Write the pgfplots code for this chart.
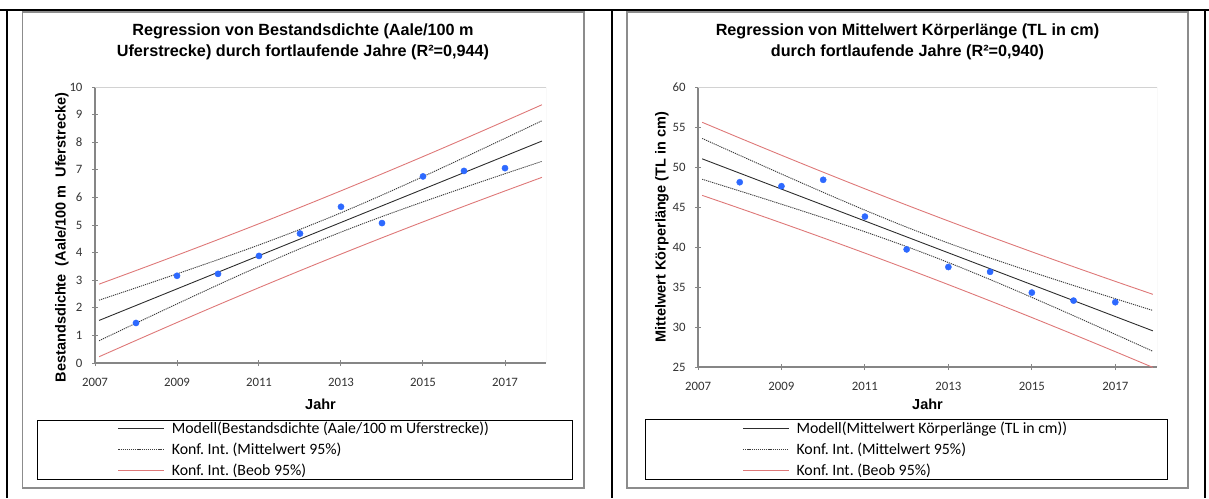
\documentclass[border=0pt]{standalone}
\usepackage{pgfplots}
\pgfplotsset{compat=1.18}
\usepackage{pgfplotstable}
\usepackage{fontspec}
\setmainfont{Carlito}
\newfontfamily\arialfont{Liberation Sans}
\frenchspacing

\definecolor{ptblue}{RGB}{45,105,255}
\definecolor{ciRed}{RGB}{222,120,120}
\definecolor{frameGray}{RGB}{140,140,140}
\definecolor{axisGray}{RGB}{134,134,134}
\definecolor{boxGray}{RGB}{210,210,210}
\definecolor{fitGray}{RGB}{45,45,45}
\definecolor{dotGray}{RGB}{60,60,60}

% Left chart: regression lines and confidence bands
\pgfplotstableread{
x      fit   mlo   mhi   plo   phi
2007.1 1.543 0.808 2.278 0.228 2.858
2008   2.084 1.443 2.725 0.818 3.350
2009   2.686 2.142 3.230 1.467 3.905
2010   3.288 2.831 3.745 2.105 4.471
2011   3.889 3.500 4.278 2.731 5.047
2012   4.491 4.141 4.841 3.345 5.637
2013   5.093 4.743 5.443 3.947 6.239
2014   5.695 5.306 6.084 4.537 6.853
2015   6.296 5.839 6.753 5.113 7.479
2016   6.898 6.354 7.442 5.679 8.117
2017   7.500 6.859 8.141 6.234 8.766
2017.9 8.041 7.306 8.776 6.726 9.356
}\leftlines
\pgfplotstableread{
x    y
2008 1.45
2009 3.16
2010 3.23
2011 3.88
2012 4.69
2013 5.66
2014 5.07
2015 6.76
2016 6.96
2017 7.06
}\leftpts

% Right chart
\pgfplotstableread{
x      fit    mlo    mhi    plo    phi
2007.1 51.021 48.471 53.571 46.455 55.587
2008   49.229 47.003 51.455 44.836 53.622
2009   47.238 45.350 49.126 43.006 51.470
2010   45.247 43.659 46.835 41.141 49.353
2011   43.256 41.905 44.607 39.235 47.277
2012   41.265 40.050 42.480 37.288 45.242
2013   39.275 38.060 40.490 35.298 43.252
2014   37.284 35.933 38.635 33.263 41.305
2015   35.293 33.705 36.881 31.187 39.399
2016   33.302 31.414 35.190 29.070 37.534
2017   31.311 29.085 33.537 26.918 35.704
2017.9 29.519 26.969 32.069 24.953 34.085
}\rightlines
\pgfplotstableread{
x    y
2008 48.1
2009 47.6
2010 48.4
2011 43.8
2012 39.7
2013 37.5
2014 36.9
2015 34.3
2016 33.3
2017 33.1
}\rightpts

\pgfplotsset{
  excel/.style={
    scale only axis,
    axis lines=left,
    axis line style={-, axisGray, line width=1.3pt},
    tick align=center,
    major tick length=6pt,
    tick style={axisGray, line width=1pt},
    xmin=2007, xmax=2018,
    xtick={2007,2009,...,2017},
    ticklabel style={font=\fontsize{12.8}{14}\selectfont, text=black!80},
    xticklabel style={yshift=-9pt},
    yticklabel style={xshift=-6pt},
    /pgf/number format/1000 sep={},
    /pgf/number format/assume math mode=true,
    label style={font=\arialfont\bfseries\fontsize{14.5}{16}\selectfont},
    legend image code/.code={\draw[#1] (0pt,0pt) -- (46pt,0pt);},
    legend style={draw=none, fill=none, inner sep=0pt, row sep=4pt,
      font=\fontsize{15.8}{18}\selectfont, cells={anchor=west}},
    legend cell align=left,
  },
  fitline/.style={fitGray, line width=0.9pt},
  meanci/.style={dotGray, line width=0.9pt, dash pattern=on 1.2pt off 0.9pt, smooth},
  predci/.style={ciRed, line width=0.9pt, smooth},
  pts/.style={only marks, mark=*, mark size=3.1pt, color=ptblue},
}

\begin{document}
\begin{tikzpicture}
\begin{scope}[x=1pt,y=-1pt]
  \path[use as bounding box] (0,0) rectangle (1209,498);
  % table borders
  \draw[line width=2.2pt] (0,10) -- (1209,10);
  \draw[line width=2.2pt] (7,9) -- (7,498);
  \draw[line width=2.2pt] (612,9) -- (612,498);
  \draw[line width=2.2pt] (1205,9) -- (1205,498);
  % chart frames
  \draw[frameGray, line width=1.5pt] (22.5,11.8) rectangle (584,488);
  \draw[frameGray, line width=1.5pt] (627,11.8) rectangle (1188,488);
  % legend boxes
  \draw[black, line width=1pt] (37,420) rectangle (572,479);
  \draw[black, line width=1pt] (645,419) rectangle (1167,479);
  % titles
  \node[font=\arialfont\bfseries\fontsize{16.2}{21}\selectfont, align=center] at (303,41.5)
    {Regression von Bestandsdichte (Aale/100 m\\Uferstrecke) durch fortlaufende Jahre (R²=0,944)};
  \node[font=\arialfont\bfseries\fontsize{16.2}{21}\selectfont, align=center] at (907.5,41.5)
    {Regression von Mittelwert Körperlänge (TL in cm)\\durch fortlaufende Jahre (R²=0,940)};
\end{scope}

% Left axis
\begin{axis}[excel,
  at={(95pt,-363pt)}, anchor=south west,
  width=451pt, height=276pt,
  ymin=0, ymax=10, ytick={0,1,...,10},
  xlabel={Jahr},
  ylabel={Bestandsdichte\ \ (Aale/100 m\ \ Uferstrecke)},
  xlabel style={at={(axis description cs:0.5,-0.1486)}, anchor=center},
  ylabel style={at={(axis description cs:-0.0732,0.455)}, anchor=center},
  legend style={at={(axis description cs:0.4645,-0.3134)}, anchor=center},
]
\draw[boxGray, line width=1pt] (rel axis cs:0,1) -- (rel axis cs:1,1) -- (rel axis cs:1,0);
\addplot[fitline] table[x=x, y=fit] {\leftlines};
\addlegendentry{\hspace{5pt}Modell(Bestandsdichte (Aale/100 m Uferstrecke))}
\addplot[meanci] table[x=x, y=mhi] {\leftlines};
\addlegendentry{\hspace{5pt}Konf. Int. (Mittelwert 95\%)}
\addplot[predci] table[x=x, y=phi] {\leftlines};
\addlegendentry{\hspace{5pt}Konf. Int. (Beob 95\%)}
\addplot[meanci, forget plot] table[x=x, y=mlo] {\leftlines};
\addplot[predci, forget plot] table[x=x, y=plo] {\leftlines};
\addplot[pts, forget plot] table[x=x, y=y] {\leftpts};
\end{axis}

% Right axis
\begin{axis}[excel,
  at={(698pt,-367pt)}, anchor=south west,
  width=459pt, height=280pt,
  ymin=25, ymax=60, ytick={25,30,...,60},
  xlabel={Jahr},
  ylabel={Mittelwert Körperlänge (TL in cm)},
  xlabel style={at={(axis description cs:0.5,-0.132)}, anchor=center},
  ylabel style={at={(axis description cs:-0.0784,0.5)}, anchor=center},
  legend style={at={(axis description cs:0.453,-0.293)}, anchor=center},
]
\draw[boxGray, line width=1pt] (rel axis cs:0,1) -- (rel axis cs:1,1) -- (rel axis cs:1,0);
\addplot[fitline] table[x=x, y=fit] {\rightlines};
\addlegendentry{\hspace{5pt}Modell(Mittelwert Körperlänge (TL in cm))}
\addplot[meanci] table[x=x, y=mhi] {\rightlines};
\addlegendentry{\hspace{5pt}Konf. Int. (Mittelwert 95\%)}
\addplot[predci] table[x=x, y=phi] {\rightlines};
\addlegendentry{\hspace{5pt}Konf. Int. (Beob 95\%)}
\addplot[meanci, forget plot] table[x=x, y=mlo] {\rightlines};
\addplot[predci, forget plot] table[x=x, y=plo] {\rightlines};
\addplot[pts, forget plot] table[x=x, y=y] {\rightpts};
\end{axis}
\end{tikzpicture}
\end{document}
